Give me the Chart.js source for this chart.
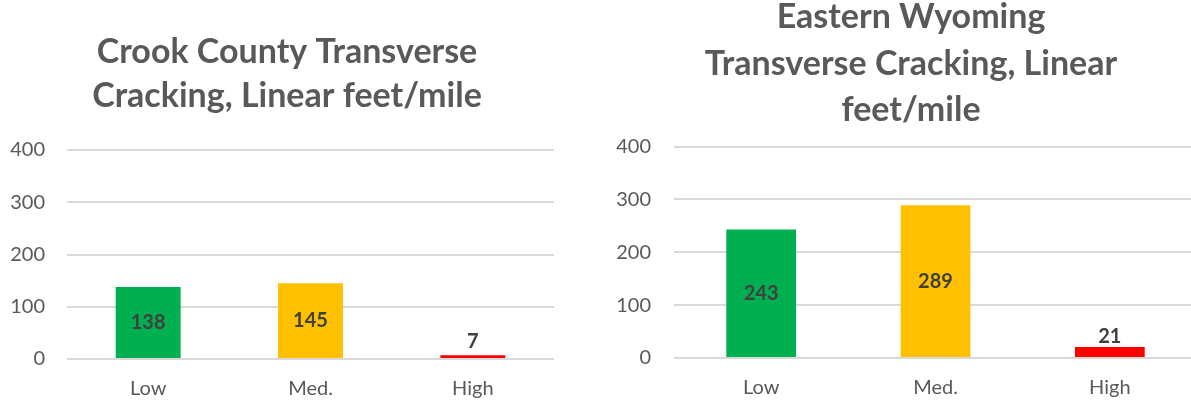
<!DOCTYPE html>
<html>
<head>
<meta charset="utf-8">
<script src="https://cdn.jsdelivr.net/npm/chart.js@4"></script>
<style>
  html, body { margin: 0; padding: 0; background: #fff; overflow: hidden; width: 1191px; height: 405px; }
  .wrap { position: absolute; top: 0; height: 405px; }
  #left  { left: 0;   width: 590px; }
  #right { left: 600px; width: 600px; }
</style>
</head>
<body>
<div class="wrap" id="left"><canvas id="chart-crook"></canvas></div>
<div class="wrap" id="right"><canvas id="chart-wyo"></canvas></div>
<script>
const categories = ['Low', 'Med.', 'High'];
const crookValues = [138, 145, 7];
const wyomingValues = [243, 289, 21];
const barColors = ['#00B050', '#FFC000', '#FF0000'];
const yTicks = [0, 100, 200, 300, 400];
const crookTitle = ['Crook County Transverse', 'Cracking, Linear feet/mile'];
const wyomingTitle = ['Eastern Wyoming', 'Transverse Cracking, Linear', 'feet/mile'];

const FONT = 'Lato, "Open Sans", sans-serif';

/* value labels: centred in the bar, or just above when the bar is too short */
const valueLabels = {
  id: 'valueLabels',
  afterDatasetsDraw(chart, args, opts) {
    const ctx = chart.ctx;
    const meta = chart.getDatasetMeta(0);
    const data = chart.data.datasets[0].data;
    ctx.save();
    ctx.font = 'bold 20px ' + FONT;
    ctx.fillStyle = '#404040';
    ctx.textAlign = 'center';
    ctx.textBaseline = 'middle';
    meta.data.forEach((bar, i) => {
      const h = bar.base - bar.y;
      const y = h > 30 ? bar.y + h / 2 : bar.y - opts.above;
      ctx.fillText(String(data[i]), bar.x, y);
    });
    ctx.restore();
  }
};

function makeChart(canvas, values, title, o) {
  return new Chart(canvas, {
    type: 'bar',
    data: {
      labels: categories,
      datasets: [{ data: values, backgroundColor: barColors, barPercentage: 0.4, categoryPercentage: 1 }]
    },
    options: {
      responsive: true,
      maintainAspectRatio: false,
      animation: false,
      layout: { padding: { left: o.padLeft, right: o.padRight, top: 0, bottom: 0 } },
      plugins: {
        legend: { display: false },
        tooltip: { enabled: false },
        valueLabels: { above: o.above },
        title: {
          display: true,
          text: title,
          color: '#595959',
          font: { family: FONT, size: 34, weight: 'bold', lineHeight: o.lh },
          padding: { top: o.titleTop, bottom: o.titleBottom }
        }
      },
      scales: {
        x: {
          afterFit: ax => { ax.height = o.axisH; },
          grid: { display: false, drawTicks: false },
          border: { display: false },
          ticks: { color: '#595959', font: { family: FONT, size: 20 }, padding: 18 }
        },
        y: {
          min: 0, max: 400,
          afterBuildTicks: ax => { ax.ticks = yTicks.map(v => ({ value: v })); },
          afterFit: ax => {
            ax.width = o.axisW;
            ax._computeLabelArea = () => undefined;   // tick labels sit left of the padded box, don't clip them
          },
          grid: { color: '#d9d9d9', lineWidth: 2, drawTicks: false },
          border: { display: false },
          ticks: { color: '#595959', font: { family: FONT, size: 20 }, padding: o.tickPad }
        }
      }
    },
    plugins: [valueLabels]
  });
}

makeChart(document.getElementById('chart-crook'), crookValues, crookTitle,
  { padLeft: 20, padRight: 36, lh: 44 / 34, titleTop: 30, titleBottom: 32, axisW: 47, tickPad: 22, axisH: 46, above: 14 });
makeChart(document.getElementById('chart-wyo'), wyomingValues, wyomingTitle,
  { padLeft: 25, padRight: 3, lh: 46.5 / 34, titleTop: -6, titleBottom: 13, axisW: 49, tickPad: 23, axisH: 47, above: 10 });
</script>
</body>
</html>
